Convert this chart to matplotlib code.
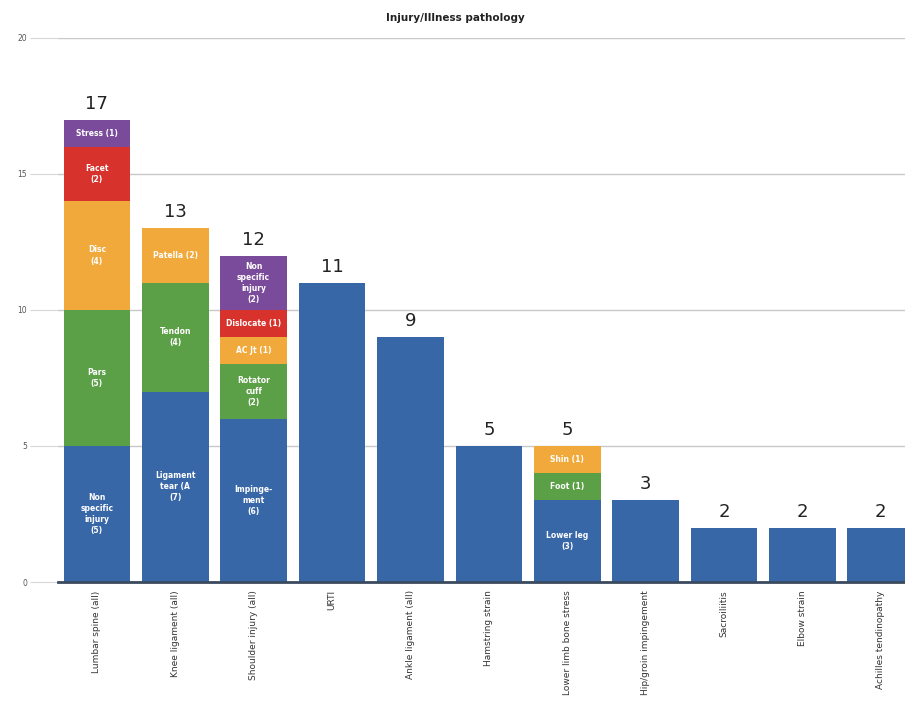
import matplotlib.pyplot as plt
import numpy as np

# kategorier og totalsummer
kategorier = ["Lumbar spine (all)", "Knee ligament (all)", "Shoulder injury (all)", "URTI",
              "Ankle ligament (all)", "Hamstring strain", "Lower limb bone stress",
              "Hip/groin impingement", "Sacroiliitis", "Elbow strain", "Achilles tendinopathy"]
totaler = [17, 13, 12, 11, 9, 5, 5, 3, 2, 2, 2]

# lagene i hver stolpe (nederst først), 0 = ingen etikett
lag_bla = [5, 7, 6, 11, 9, 5, 3, 3, 2, 2, 2]
lag_gronn = [5, 4, 2, 0, 0, 0, 1, 0, 0, 0, 0]
lag_oransje = [4, 2, 1, 0, 0, 0, 1, 0, 0, 0, 0]
lag_rod = [2, 0, 1, 0, 0, 0, 0, 0, 0, 0, 0]
lag_lilla = [1, 0, 2, 0, 0, 0, 0, 0, 0, 0, 0]

tekst_bla = {0: "Non\nspecific\ninjury\n(5)", 1: "Ligament\ntear (A\n(7)", 2: "Impinge-\nment\n(6)",
             6: "Lower leg\n(3)"}
tekst_gronn = {0: "Pars\n(5)", 1: "Tendon\n(4)", 2: "Rotator\ncuff\n(2)", 6: "Foot (1)"}
tekst_oransje = {0: "Disc\n(4)", 1: "Patella (2)", 2: "AC Jt (1)", 6: "Shin (1)"}
tekst_rod = {0: "Facet\n(2)", 2: "Dislocate (1)"}
tekst_lilla = {0: "Stress (1)", 2: "Non\nspecific\ninjury\n(2)"}

farger = ["#3867a8", "#5b9f47", "#f2a93b", "#d8322c", "#7a4b9a"]

fig = plt.figure(figsize=(9.05, 7.15), dpi=100)
ax = fig.add_axes([0.0638, 0.186, 0.944, 0.761])

x = np.arange(len(kategorier))
bunn = np.zeros(len(kategorier))
alle_lag = [lag_bla, lag_gronn, lag_oransje, lag_rod, lag_lilla]
alle_tekster = [tekst_bla, tekst_gronn, tekst_oransje, tekst_rod, tekst_lilla]

for lag, tekster, farge in zip(alle_lag, alle_tekster, farger):
    verdier = np.array(lag, dtype=float)
    ax.bar(x, verdier, bottom=bunn, width=0.85, color=farge, zorder=2)
    for i, t in tekster.items():
        ax.text(x[i], bunn[i] + verdier[i] / 2, t, ha="center", va="center",
                color="white", fontsize=5.5, fontweight="bold", linespacing=1.3, zorder=3)
    bunn += verdier

for i, tot in enumerate(totaler):
    ax.annotate(str(tot), (x[i], tot), xytext=(0, 5), textcoords="offset points",
                ha="center", va="bottom", fontsize=13, color="#222222")

ax.set_xlim(-0.5, 10.4)
ax.set_ylim(0, 20)
ax.set_yticks([0, 5, 10, 15, 20])
ax.set_yticklabels(["0", "5", "10", "15", "20"])
ax.yaxis.grid(True, color="#c8c8c8", linewidth=1, zorder=0)
ax.tick_params(axis="y", length=20, color="#d8d8d8", labelsize=5.5, labelcolor="#555555", pad=2)

ax.set_xticks(x)
ax.set_xticklabels(kategorier, rotation=90, fontsize=6.5, color="#333333", va="top")
ax.tick_params(axis="x", length=0, pad=6)

for side in ["top", "right", "left"]:
    ax.spines[side].set_visible(False)
ax.spines["bottom"].set_color("#3a4a5e")
ax.spines["bottom"].set_linewidth(2)

fig.text(0.503, 0.975, "Injury/Illness pathology", ha="center", va="center",
         fontsize=7.5, fontweight="bold", color="#222222")

plt.savefig("out.png", dpi=100)
